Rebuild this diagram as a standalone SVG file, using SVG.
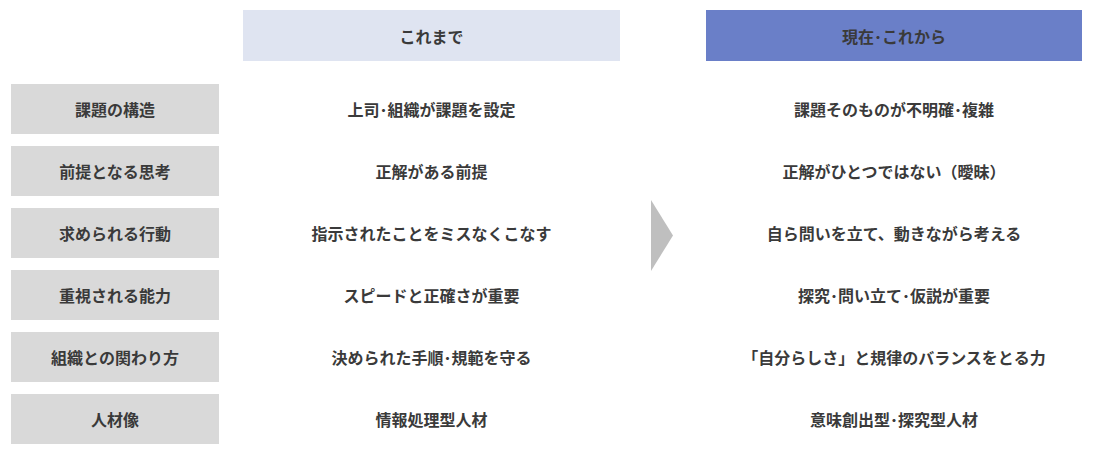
<svg xmlns="http://www.w3.org/2000/svg" width="1093" height="459" viewBox="0 0 1093 459">
<style>
text{font-family:"Noto Sans CJK JP","Noto Sans CJK SC",sans-serif;font-weight:bold;font-size:16px;fill:#3a3a3a;text-anchor:middle;dominant-baseline:central}
.lb{fill:#d9d9d9}
</style>
<rect width="1093" height="459" fill="#fff"/>
<g id="h1"><rect x="243" y="10" width="377" height="51" fill="#dfe4f1"/><text x="431.5" y="35.5">これまで</text></g>
<g id="h2"><rect x="706" y="10" width="376" height="51" fill="#6a7fc8"/><text x="894" y="35.5">現在･これから</text></g>
<g id="arrow"><polygon points="651,200 673,235.5 651,271" fill="#bfbfbf"/></g>
<g id="r1"><rect class="lb" x="11" y="84" width="208" height="50"/><text x="115" y="109">課題の構造</text><text x="431.5" y="109">上司･組織が課題を設定</text><text x="894" y="109">課題そのものが不明確･複雑</text></g>
<g id="r2"><rect class="lb" x="11" y="146" width="208" height="50"/><text x="115" y="171">前提となる思考</text><text x="431.5" y="171">正解がある前提</text><text x="894" y="171">正解がひとつではない（曖昧）</text></g>
<g id="r3"><rect class="lb" x="11" y="208" width="208" height="50"/><text x="115" y="233">求められる行動</text><text x="431.5" y="233">指示されたことをミスなくこなす</text><text x="894" y="233">自ら問いを立て、動きながら考える</text></g>
<g id="r4"><rect class="lb" x="11" y="270" width="208" height="50"/><text x="115" y="295">重視される能力</text><text x="431.5" y="295">スピードと正確さが重要</text><text x="894" y="295">探究･問い立て･仮説が重要</text></g>
<g id="r5"><rect class="lb" x="11" y="332" width="208" height="50"/><text x="115" y="357">組織との関わり方</text><text x="431.5" y="357">決められた手順･規範を守る</text><text x="894" y="357">「自分らしさ」と規律のバランスをとる力</text></g>
<g id="r6"><rect class="lb" x="11" y="394" width="208" height="50"/><text x="115" y="419">人材像</text><text x="431.5" y="419">情報処理型人材</text><text x="894" y="419">意味創出型･探究型人材</text></g>
</svg>
